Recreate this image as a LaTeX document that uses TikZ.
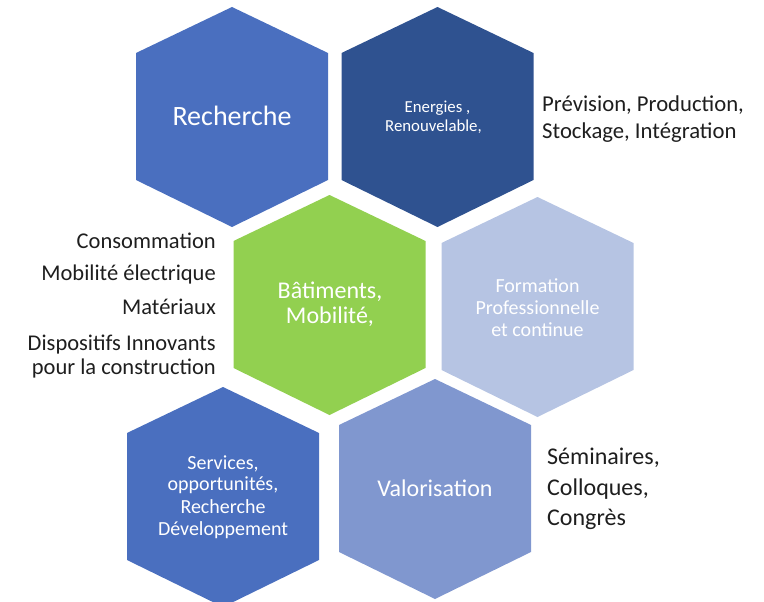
\documentclass[tikz,border=0pt]{standalone}
\usepackage{fontspec}
\setmainfont{Carlito}
\definecolor{hexA}{HTML}{4A6FBF}
\definecolor{hexB}{HTML}{2F5290}
\definecolor{hexG}{HTML}{92D050}
\definecolor{hexF}{HTML}{B6C4E3}
\definecolor{hexV}{HTML}{8097CF}
\definecolor{txt}{HTML}{1E1E1E}
\newcommand\hexa[3]{\fill[#1] (#2,#3) -- ++(96,46) -- ++(0,127) -- ++(-96,47) -- ++(-96,-47) -- ++(0,-127) -- cycle;}
\tikzset{
  intext/.style={text=white, inner sep=0pt, anchor=base},
  sidetext/.style={text=txt, inner sep=0pt},
}
\newcommand\fs[1]{\fontsize{#1}{#1}\selectfont}
\begin{document}
\begin{tikzpicture}[x=1pt,y=-1pt]
\useasboundingbox (0,0) rectangle (764,602);
\hexa{hexA}{232}{7}
\hexa{hexB}{437.5}{7}
\hexa{hexG}{329.5}{195}
\hexa{hexF}{537.5}{197}
\hexa{hexA}{223}{387}
\hexa{hexV}{435}{379}

\node[intext, font=\fs{28}] (rech) at (232,125) {Recherche};
\node[intext, font=\fs{16.8}] (ener1) at (437.5,112.7) {Energies ,};
\node[intext, font=\fs{16.8}] (ener2) at (433.5,131.7) {Renouvelable,};
\node[sidetext, anchor=base west, font=\fs{22.7}] (prev1) at (542,112) {Prévision, Production,};
\node[sidetext, anchor=base west, font=\fs{22.7}] (prev2) at (542,139) {Stockage, Intégration};

\node[sidetext, anchor=base east, font=\fs{22.5}] (cons) at (216,248) {Consommation};
\node[sidetext, anchor=base east, font=\fs{22.5}] (mobe) at (216,280) {Mobilité électrique};
\node[sidetext, anchor=base east, font=\fs{22.5}] (mat) at (216,314) {Matériaux};
\node[sidetext, anchor=base east, font=\fs{22.5}] (disp1) at (216,350) {Dispositifs Innovants};
\node[sidetext, anchor=base east, font=\fs{22.5}] (disp2) at (216,374) {pour la construction};

\node[intext, font=\fs{24}] (bat1) at (330,298) {Bâtiments,};
\node[intext, font=\fs{24}] (bat2) at (330,323) {Mobilité,};

\node[intext, font=\fs{20}] (form1) at (537.5,292) {Formation};
\node[intext, font=\fs{20}] (form2) at (537.5,314) {Professionnelle};
\node[intext, font=\fs{20}] (form3) at (537.5,336) {et continue};

\node[intext, font=\fs{20}] (serv1) at (223,469) {Services,};
\node[intext, font=\fs{20}] (serv2) at (223,490) {opportunités,};
\node[intext, font=\fs{20}] (serv3) at (223,513) {Recherche};
\node[intext, font=\fs{20}] (serv4) at (223,535) {Développement};

\node[intext, font=\fs{24}] (valo) at (435,496) {Valorisation};

\node[sidetext, anchor=base west, font=\fs{24}] (sem1) at (547,464) {Séminaires,};
\node[sidetext, anchor=base west, font=\fs{24}] (sem2) at (547,495) {Colloques,};
\node[sidetext, anchor=base west, font=\fs{24}] (sem3) at (547,525) {Congrès};
\end{tikzpicture}
\end{document}
